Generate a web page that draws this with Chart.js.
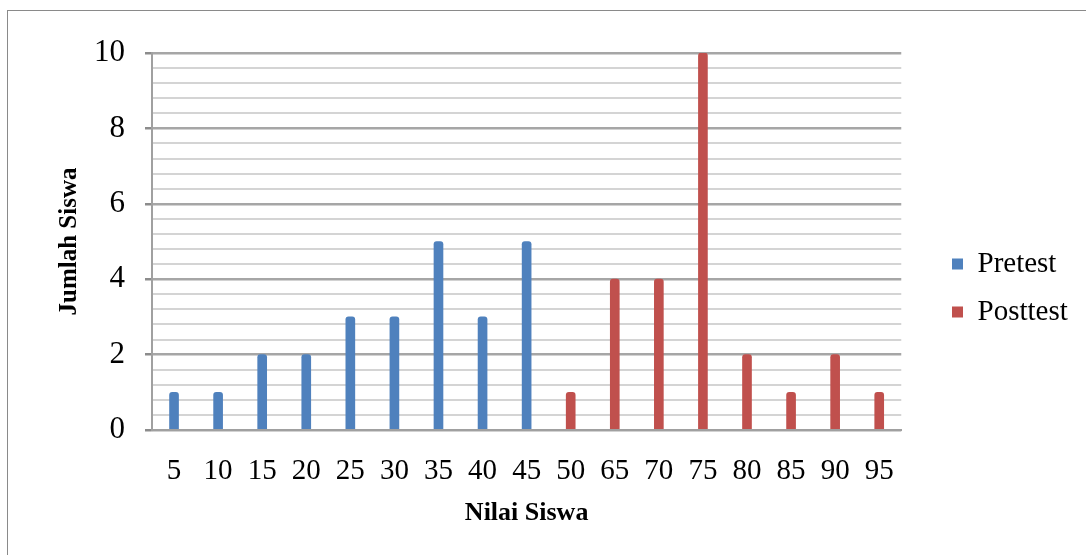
<!DOCTYPE html>
<html>
<head>
<meta charset="utf-8">
<script src="https://cdn.jsdelivr.net/npm/chart.js@4.4.0/dist/chart.umd.min.js"></script>
<style>
  html, body { margin: 0; padding: 0; background: #fff; overflow: hidden; }
  #wrap { position: relative; width: 1086px; height: 555px; }
  #marco { position: absolute; left: 7px; top: 10px; width: 1100px; height: 600px; border: 1.5px solid #8a8a8a; box-sizing: border-box; pointer-events: none; }
</style>
</head>
<body>
<div id="wrap">
  <canvas id="grafico" width="1086" height="555"></canvas>
  <div id="marco"></div>
</div>
<script>
// Datos del grafico
const nilai = ['5', '10', '15', '20', '25', '30', '35', '40', '45', '50', '65', '70', '75', '80', '85', '90', '95'];
const pretest = [1, 1, 2, 2, 3, 3, 5, 3, 5, null, null, null, null, null, null, null, null];
const posttest = [null, null, null, null, null, null, null, null, null, 1, 4, 4, 10, 2, 1, 2, 1];

const fuente = "'Liberation Serif', 'Times New Roman', serif";

function esMayor(v) {
    return Math.abs(v - Math.round(v / 2) * 2) < 1e-6;
}

// mover la leyenda un poco (mas separada del grafico)
const moverLeyenda = {
    id: 'moverLeyenda',
    afterLayout(chart) {
        const ley = chart.legend;
        const dx = 952 - 19 - ley.left;
        ley.left += dx; ley.right += dx;
        ley.top -= 5; ley.bottom -= 5;
    }
};

const ctx = document.getElementById('grafico').getContext('2d');
const grafico = new Chart(ctx, {
    type: 'bar',
    data: {
        labels: nilai,
        datasets: [
            { label: 'Pretest', data: pretest, backgroundColor: '#4F81BD', barThickness: 9, borderRadius: { topLeft: 3, topRight: 3 } },
            { label: 'Posttest', data: posttest, backgroundColor: '#C0504D', barThickness: 9, borderRadius: { topLeft: 3, topRight: 3 } }
        ]
    },
    options: {
        responsive: false,
        animation: false,
        layout: { padding: { left: 55, top: 53, right: 40, bottom: 22 } },
        plugins: {
            tooltip: { enabled: false },
            legend: {
                position: 'right',
                labels: {
                    boxWidth: 11,
                    boxHeight: 11,
                    padding: 19,
                    color: '#000',
                    font: { family: fuente, size: 29 }
                }
            }
        },
        scales: {
            x: {
                stacked: true,
                grid: { display: false },
                border: { display: true, color: '#a0a0a0', width: 2 },
                ticks: { color: '#000', padding: 16, maxRotation: 0, autoSkip: false, font: { family: fuente, size: 29 } },
                title: { display: true, text: 'Nilai Siswa', color: '#000', padding: { top: 0, bottom: 4 }, font: { family: fuente, size: 26, weight: 'bold' } },
                afterFit: function(scale) { scale.height = 103; }
            },
            y: {
                stacked: true,
                min: 0,
                max: 10,
                ticks: {
                    stepSize: 0.4,
                    color: '#000',
                    padding: 20,
                    autoSkip: false,
                    font: { family: fuente, size: 31 },
                    callback: function(v) { return esMayor(v) ? Math.round(v) : ''; }
                },
                grid: {
                    tickLength: 7,
                    color: function(c) { return esMayor(c.tick.value) ? '#a6a6a6' : '#d4d4d4'; },
                    tickColor: function(c) { return esMayor(c.tick.value) ? '#8c8c8c' : 'rgba(0,0,0,0)'; },
                    lineWidth: function(c) { return esMayor(c.tick.value) ? 2.5 : 2; }
                },
                border: { display: true, color: '#a0a0a0', width: 2 },
                title: { display: true, text: 'Jumlah Siswa', color: '#000', padding: { top: 0, bottom: 0 }, font: { family: fuente, size: 25, weight: 'bold' } },
                afterFit: function(scale) { scale.width = 97; }
            }
        }
    },
    plugins: [moverLeyenda]
});
</script>
</body>
</html>
